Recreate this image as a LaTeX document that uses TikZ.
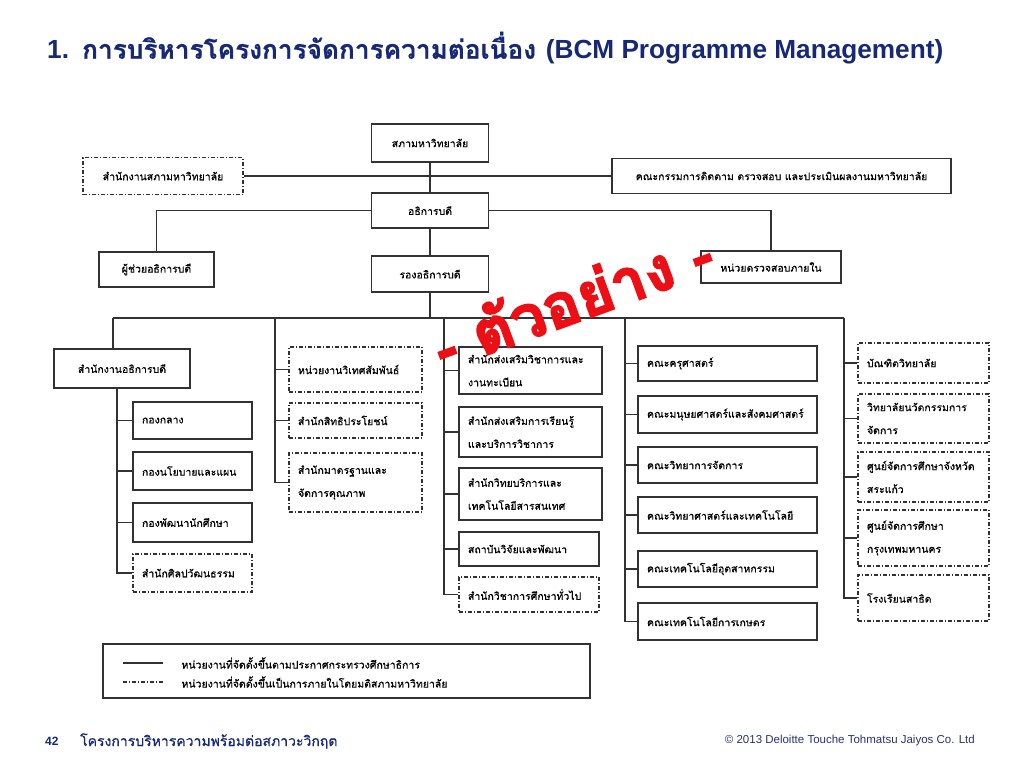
\documentclass[tikz,border=0pt]{standalone}
\usepackage{fontspec}
\newfontfamily\thai[Script=Thai, FakeBold=0.6]{Loma}
\newfontfamily\stampfont[Script=Thai, FakeBold=3]{Loma}
\newfontfamily\latin{Liberation Sans}
\usepackage{xcolor}
\definecolor{navy}{RGB}{22,40,118}
\definecolor{linegray}{RGB}{50,50,50}
\definecolor{stamp}{RGB}{236,16,22}
\definecolor{foot}{RGB}{40,52,115}

\begin{document}
\begin{tikzpicture}[x=1pt,y=-1pt,
  unit/.style={draw=linegray, line width=1.3pt, rectangle, inner xsep=9pt, inner ysep=0pt, font=\thai\fontsize{10.5}{23}\selectfont},
  cbox/.style={unit, align=center},
  lbox/.style={unit, align=left},
  inhouse/.style={dash pattern=on 4pt off 2pt on 1pt off 2pt},
  link/.style={draw=linegray, line width=1.2pt}]
\fill[white] (0,0) rectangle (1024,768);
\useasboundingbox (0,0) rectangle (1024,768);

\node[anchor=west, text=navy, inner sep=0pt, font=\bfseries\fontsize{26.2}{30}\selectfont] (title) at (47,48)
  {{\latin 1.} {\thai การบริหารโครงการจัดการความต่อเนื่อง} {\latin (BCM Programme Management)}};

\node[cbox, minimum width=117pt, minimum height=38pt] (council) at (430,143) {สภามหาวิทยาลัย};
\node[cbox, inhouse, minimum width=160pt, minimum height=37pt] (secretariat) at (163,176) {สำนักงานสภามหาวิทยาลัย};
\node[cbox, minimum width=339pt, minimum height=35pt] (committee) at (781.5,176) {คณะกรรมการติดตาม ตรวจสอบ และประเมินผลงานมหาวิทยาลัย};
\node[cbox, minimum width=117pt, minimum height=35pt] (rector) at (430,210.5) {อธิการบดี};
\node[cbox, minimum width=115pt, minimum height=35pt] (assistant) at (156.5,269.5) {ผู้ช่วยอธิการบดี};
\node[cbox, minimum width=117pt, minimum height=36pt] (vice) at (430,274) {รองอธิการบดี};
\node[cbox, minimum width=140pt, minimum height=32pt] (audit) at (771,267) {หน่วยตรวจสอบภายใน};

\draw[link] (council) -- (rector);
\draw[link] (secretariat) -- (committee);
\draw[link] (rector.west) -| (assistant.north);
\draw[link] (rector.east) -| (audit.north);
\draw[link] (rector) -- (vice);

\coordinate (bus) at (430,318);
\coordinate (b1) at (113,318);
\coordinate (b2) at (275,318);
\coordinate (b3) at (444,318);
\coordinate (b4) at (625,318);
\coordinate (b5) at (844,318);
\draw[link] (vice) -- (bus);
\draw[link] (b1) -- (b5);

% office of the president
\node[cbox, minimum width=136pt, minimum height=39pt] (exec) at (122,368.5) {สำนักงานอธิการบดี};
\node[lbox, text width=101pt, minimum height=37pt] (ofc1) at (192.5,420.5) {กองกลาง};
\node[lbox, text width=101pt, minimum height=38pt] (ofc2) at (192.5,471) {กองนโยบายและแผน};
\node[lbox, text width=101pt, minimum height=39pt] (ofc3) at (192.5,522.5) {กองพัฒนานักศึกษา};
\node[lbox, inhouse, text width=101pt, minimum height=38pt] (ofc4) at (192.5,573) {สำนักศิลปวัฒนธรรม};
\coordinate (t1) at (117,388);
\draw[link] (b1) -- (b1 |- exec.north);
\draw[link] (t1) |- (ofc4.west);
\draw[link] (t1 |- ofc1.west) -- (ofc1.west);
\draw[link] (t1 |- ofc2.west) -- (ofc2.west);
\draw[link] (t1 |- ofc3.west) -- (ofc3.west);

% internal units
\node[lbox, inhouse, text width=115pt, minimum height=45pt] (intl) at (355.5,369.5) {หน่วยงานวิเทศสัมพันธ์};
\node[lbox, inhouse, text width=115pt, minimum height=35pt] (benefit) at (355.5,420.5) {สำนักสิทธิประโยชน์};
\node[lbox, inhouse, text width=115pt, minimum height=59pt] (quality) at (355.5,482.5) {สำนักมาตรฐานและ\\จัดการคุณภาพ};
\draw[link] (b2) |- (quality.west);
\draw[link] (b2 |- intl.west) -- (intl.west);
\draw[link] (b2 |- benefit.west) -- (benefit.west);

% academic offices
\node[lbox, text width=125pt, minimum height=47pt] (acad) at (530.5,370.5) {สำนักส่งเสริมวิชาการและ\\งานทะเบียน};
\node[lbox, text width=125pt, minimum height=50pt] (learn) at (530.5,432) {สำนักส่งเสริมการเรียนรู้\\และบริการวิชาการ};
\node[lbox, text width=125pt, minimum height=52pt] (library) at (530.5,494) {สำนักวิทยบริการและ\\เทคโนโลยีสารสนเทศ};
\node[lbox, text width=122pt, minimum height=34pt] (research) at (529,549) {สถาบันวิจัยและพัฒนา};
\node[lbox, inhouse, text width=122pt, minimum height=35pt] (general) at (529,594.5) {สำนักวิชาการศึกษาทั่วไป};
\draw[link] (b3) |- (general.west);
\draw[link] (b3 |- acad.west) -- (acad.west);
\draw[link] (b3 |- learn.west) -- (learn.west);
\draw[link] (b3 |- library.west) -- (library.west);
\draw[link] (b3 |- research.west) -- (research.west);

% faculties
\node[lbox, text width=161pt, minimum height=35pt] (edu) at (727.5,363.5) {คณะครุศาสตร์};
\node[lbox, text width=161pt, minimum height=37pt] (human) at (727.5,414.5) {คณะมนุษยศาสตร์และสังคมศาสตร์};
\node[lbox, text width=161pt, minimum height=36pt] (manage) at (727.5,465) {คณะวิทยาการจัดการ};
\node[lbox, text width=161pt, minimum height=36pt] (science) at (727.5,515) {คณะวิทยาศาสตร์และเทคโนโลยี};
\node[lbox, text width=161pt, minimum height=36pt] (indus) at (727.5,569) {คณะเทคโนโลยีอุตสาหกรรม};
\node[lbox, text width=161pt, minimum height=37pt] (agri) at (727.5,621.5) {คณะเทคโนโลยีการเกษตร};
\draw[link] (b4) |- (agri.west);
\draw[link] (b4 |- edu.west) -- (edu.west);
\draw[link] (b4 |- human.west) -- (human.west);
\draw[link] (b4 |- manage.west) -- (manage.west);
\draw[link] (b4 |- science.west) -- (science.west);
\draw[link] (b4 |- indus.west) -- (indus.west);

% colleges and centres
\node[lbox, inhouse, text width=113pt, minimum height=40pt] (grad) at (923.5,363) {บัณฑิตวิทยาลัย};
\node[lbox, inhouse, text width=113pt, minimum height=49pt] (innov) at (923.5,418.5) {วิทยาลัยนวัตกรรมการ\\จัดการ};
\node[lbox, inhouse, text width=113pt, minimum height=50pt] (sakaeo) at (923.5,477) {ศูนย์จัดการศึกษาจังหวัด\\สระแก้ว};
\node[lbox, inhouse, text width=113pt, minimum height=56pt] (bkk) at (923.5,538) {ศูนย์จัดการศึกษา\\กรุงเทพมหานคร};
\node[lbox, inhouse, text width=113pt, minimum height=46pt] (demo) at (923.5,598) {โรงเรียนสาธิต};
\draw[link] (b5) |- (demo.west);
\draw[link] (b5 |- grad.west) -- (grad.west);
\draw[link] (b5 |- innov.west) -- (innov.west);
\draw[link] (b5 |- sakaeo.west) -- (sakaeo.west);
\draw[link] (b5 |- bkk.west) -- (bkk.west);

% legend
\draw[draw=linegray, line width=1.3pt] (103,644) rectangle (590,698);
\coordinate (s1a) at (123,663);
\coordinate (s1b) at (163,663);
\coordinate (s2a) at (123,682);
\coordinate (s2b) at (163,682);
\draw[link] (s1a) -- (s1b);
\draw[link, inhouse] (s2a) -- (s2b);
\node[anchor=west, font=\thai\fontsize{10.5}{12}\selectfont] (key1) at (178,663) {หน่วยงานที่จัดตั้งขึ้นตามประกาศกระทรวงศึกษาธิการ};
\node[anchor=west, font=\thai\fontsize{10.5}{12}\selectfont] (key2) at (178,682) {หน่วยงานที่จัดตั้งขึ้นเป็นการภายในโดยมติสภามหาวิทยาลัย};

\node[text=stamp, rotate=20, font=\stampfont\bfseries\fontsize{61}{61}\selectfont] (sample) at (572,298) {- ตัวอย่าง -};

\node[anchor=west, text=navy, inner sep=0pt, font=\latin\bfseries\fontsize{12}{14}\selectfont] (page) at (45,741) {42};
\node[anchor=west, text=navy, inner sep=0pt, font=\thai\fontsize{14}{16}\selectfont] (footer) at (80,741) {โครงการบริหารความพร้อมต่อสภาวะวิกฤต};
\node[anchor=east, text=foot, inner sep=0pt, font=\latin\fontsize{11.5}{13}\selectfont] (copy) at (975,741) {© 2013 Deloitte Touche Tohmatsu Jaiyos Co. Ltd};
\end{tikzpicture}
\end{document}
